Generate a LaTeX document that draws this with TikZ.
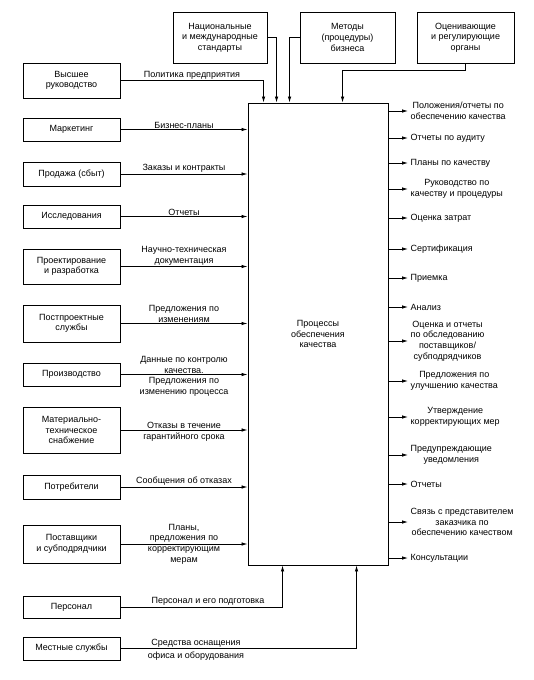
\documentclass[tikz,border=0pt]{standalone}
\usepackage{fontspec}
\setmainfont{Liberation Sans}
\usetikzlibrary{arrows.meta}
\tikzset{
  unit/.style={draw, line width=0.9pt, minimum width=97pt, align=center, inner sep=1pt},
  flow/.style={line width=0.8pt, -{Latex[length=6pt,width=3.5pt]}},
  lbl/.style={inner sep=1pt, align=center},
  lblb/.style={inner ysep=2.5pt, inner xsep=1pt, align=center},
  res/.style={anchor=west, inner xsep=2.5pt, inner ysep=0pt, align=center},
}
\begin{document}
\begin{tikzpicture}[x=1pt,y=-1pt,font=\fontsize{9}{10.6}\selectfont]
    \useasboundingbox (0,0) rectangle (533,680);
    % central process
    \node[draw, line width=0.9pt, minimum width=140pt, minimum height=462pt, align=center] (core) at (318,334) {Процессы\\обеспечения\\качества};
    % upper inputs
    \node[unit, minimum width=94pt, minimum height=51pt] (std) at (220,37.5) {Национальные\\и международные\\стандарты};
    \node[unit, minimum width=95pt, minimum height=51pt] (meth) at (347.5,37.5) {Методы\\(процедуры)\\бизнеса};
    \node[unit, minimum width=97pt, minimum height=51pt] (regs) at (465.5,37.5) {Оценивающие\\и регулирующие\\органы};
    % left inputs
    \node[unit, minimum height=35pt] (boss) at (71.5,80.5) {Высшее\\руководство};
    \node[unit, minimum height=23pt] (market) at (71.5,129.5) {Маркетинг};
    \node[unit, minimum height=24pt] (sales) at (71.5,174) {Продажа (сбыт)};
    \node[unit, minimum height=23pt] (research) at (71.5,216.5) {Исследования};
    \node[unit, minimum height=35pt] (design) at (71.5,266.5) {Проектирование\\и разработка};
    \node[unit, minimum height=37pt] (after) at (71.5,323.5) {Постпроектные\\службы};
    \node[unit, minimum height=23pt] (prod) at (71.5,374.5) {Производство};
    \node[unit, minimum height=46pt] (supply) at (71.5,430) {Материально-\\техническое\\снабжение};
    \node[unit, minimum height=24pt] (cust) at (71.5,487) {Потребители};
    \node[unit, minimum height=38pt] (vendors) at (71.5,544) {Поставщики\\и субподрядчики};
    \node[unit, minimum height=22pt] (staff) at (71.5,607) {Персонал};
    \node[unit, minimum height=23pt] (local) at (71.5,648.5) {Местные службы};
    % arrows from above
    \draw[flow] (boss.east) -| node[lbl, pos=0.25, above] {Политика предприятия} ([xshift=16pt]core.north west);
    \draw[flow] (std.east) -| ([xshift=29pt]core.north west);
    \draw[flow] (meth.west) -| ([xshift=42pt]core.north west);
    \draw[flow] (regs.south) -- ++(0,7) -| ([xshift=95pt]core.north west);
    % arrows from the left
    \draw[flow] (market.east) -- node[lbl, above] {Бизнес-планы} (market.east -| core.west);
    \draw[flow] (sales.east) -- node[lbl, above] {Заказы и контракты} (sales.east -| core.west);
    \draw[flow] (research.east) -- node[lbl, above] {Отчеты} (research.east -| core.west);
    \draw[flow] (design.east) -- node[lbl, above] {Научно-техническая\\документация} (design.east -| core.west);
    \draw[flow] (after.east) -- node[lbl, above] {Предложения по\\изменениям} (after.east -| core.west);
    \draw[flow] (prod.east) -- node[lbl, above] {Данные по контролю\\качества.} node[lblb, below] {Предложения по\\изменению процесса} (prod.east -| core.west);
    \draw[flow] (supply.east) -- node[lbl, above] {Отказы в течение} node[lblb, below] {гарантийного срока} (supply.east -| core.west);
    \draw[flow] (cust.east) -- node[lbl, above] {Сообщения об отказах} (cust.east -| core.west);
    \draw[flow] (vendors.east) -- node[lbl, above] {Планы,\\предложения по} node[lblb, below] {корректирующим\\мерам} (vendors.east -| core.west);
    % arrows from below
    \draw[flow] (staff.east) -| node[lbl, pos=0.27, above] {Персонал и его подготовка} ([xshift=35pt]core.south west);
    \draw[flow] (local.east) -| node[lbl, pos=0.16, above] {Средства оснащения} node[lblb, pos=0.16, below] {офиса и оборудования} ([xshift=109pt]core.south west);
    % outputs
    \node[res] (o1) at (408,111) {Положения/отчеты по\\обеспечению качества};
    \node[res] (o2) at (408,138) {Отчеты по аудиту};
    \node[res] (o3) at (408,163) {Планы по качеству};
    \node[res] (o4) at (408,189) {Руководство по\\качеству и процедуры};
    \node[res] (o5) at (408,218) {Оценка затрат};
    \node[res] (o6) at (408,249) {Сертификация};
    \node[res] (o7) at (408,278) {Приемка};
    \node[res] (o8) at (408,307) {Анализ};
    \node[res] (o9) at (408,341) {Оценка и отчеты\\по обследованию\\поставщиков/\\субподрядчиков};
    \node[res] (o10) at (408,381) {Предложения по\\улучшению качества};
    \node[res] (o11) at (408,417) {Утверждение\\корректирующих мер};
    \node[res] (o12) at (408,455) {Предупреждающие\\уведомления};
    \node[res] (o13) at (408,484) {Отчеты};
    \node[res] (o14) at (408,522) {Связь с представителем\\заказчика по\\обеспечению качеством};
    \node[res] (o15) at (408,558) {Консультации};
    \draw[flow] (o1.west -| core.east) -- (o1.west);
    \draw[flow] (o2.west -| core.east) -- (o2.west);
    \draw[flow] (o3.west -| core.east) -- (o3.west);
    \draw[flow] (o4.west -| core.east) -- (o4.west);
    \draw[flow] (o5.west -| core.east) -- (o5.west);
    \draw[flow] (o6.west -| core.east) -- (o6.west);
    \draw[flow] (o7.west -| core.east) -- (o7.west);
    \draw[flow] (o8.west -| core.east) -- (o8.west);
    \draw[flow] (o9.west -| core.east) -- (o9.west);
    \draw[flow] (o10.west -| core.east) -- (o10.west);
    \draw[flow] (o11.west -| core.east) -- (o11.west);
    \draw[flow] (o12.west -| core.east) -- (o12.west);
    \draw[flow] (o13.west -| core.east) -- (o13.west);
    \draw[flow] (o14.west -| core.east) -- (o14.west);
    \draw[flow] (o15.west -| core.east) -- (o15.west);
\end{tikzpicture}
\end{document}
